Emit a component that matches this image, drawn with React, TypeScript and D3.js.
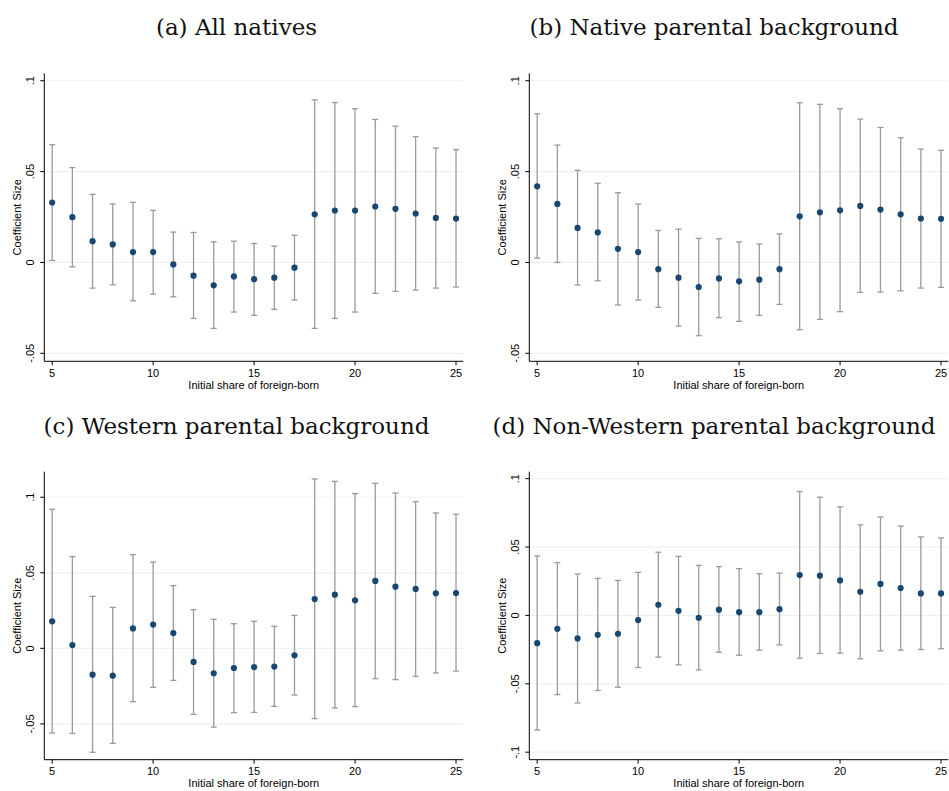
import React from "react";
import * as d3 from "d3";

// shares of foreign-born on the x axis
const shares = [5, 6, 7, 8, 9, 10, 11, 12, 13, 14, 15, 16, 17, 18, 19, 20, 21, 22, 23, 24, 25];

// (a) All natives
const coefA = [0.033, 0.0249, 0.0117, 0.0099, 0.0057, 0.0057, -0.0011, -0.0073, -0.0126, -0.0077, -0.0092, -0.0084, -0.0029, 0.0265, 0.0286, 0.0286, 0.0308, 0.0295, 0.0269, 0.0245, 0.0242];
const hiA = [0.0648, 0.0522, 0.0375, 0.0322, 0.0331, 0.0287, 0.0167, 0.0165, 0.0113, 0.0117, 0.0104, 0.009, 0.015, 0.0895, 0.088, 0.0846, 0.0787, 0.075, 0.0692, 0.063, 0.0621];
const loA = [0.0011, -0.0024, -0.0141, -0.0123, -0.0211, -0.0174, -0.0189, -0.0308, -0.0363, -0.0273, -0.0291, -0.0258, -0.0207, -0.0363, -0.0308, -0.0273, -0.017, -0.0159, -0.0152, -0.0141, -0.0135];

// (b) Native parental background
const coefB = [0.0419, 0.0322, 0.019, 0.0165, 0.0075, 0.0057, -0.0037, -0.0084, -0.0135, -0.0088, -0.0104, -0.0095, -0.0037, 0.0254, 0.0276, 0.0287, 0.0311, 0.0291, 0.0265, 0.0242, 0.024];
const hiB = [0.0818, 0.0646, 0.0507, 0.0436, 0.0384, 0.0322, 0.0176, 0.0183, 0.0132, 0.013, 0.0113, 0.0101, 0.0157, 0.0879, 0.087, 0.0846, 0.0789, 0.0743, 0.0686, 0.0624, 0.0617];
const loB = [0.0024, 0.0, -0.0124, -0.0101, -0.0234, -0.0207, -0.0247, -0.035, -0.0403, -0.0304, -0.0324, -0.0291, -0.0231, -0.037, -0.0313, -0.0271, -0.0165, -0.0163, -0.0156, -0.0141, -0.0137];

// (c) Western parental background
const coefC = [0.0179, 0.0022, -0.0174, -0.0181, 0.0132, 0.0157, 0.0101, -0.009, -0.0165, -0.013, -0.0124, -0.0121, -0.0046, 0.0326, 0.0355, 0.0318, 0.0446, 0.0408, 0.0393, 0.0364, 0.0366];
const hiC = [0.092, 0.0607, 0.0344, 0.0271, 0.062, 0.0571, 0.0415, 0.0256, 0.0192, 0.0163, 0.0179, 0.0146, 0.0218, 0.1121, 0.1105, 0.1024, 0.1092, 0.1028, 0.0971, 0.0896, 0.0887];
const loC = [-0.056, -0.0563, -0.0688, -0.0629, -0.0353, -0.0258, -0.0212, -0.0437, -0.0521, -0.0426, -0.0424, -0.0384, -0.0309, -0.0465, -0.0395, -0.0386, -0.0201, -0.0207, -0.0185, -0.0163, -0.015];

// (d) Non-Western parental background
const coefD = [-0.0203, -0.0098, -0.0168, -0.0142, -0.0134, -0.0034, 0.0078, 0.0034, -0.0017, 0.0042, 0.0024, 0.0024, 0.0046, 0.0295, 0.0291, 0.0256, 0.0173, 0.023, 0.02, 0.0161, 0.0161];
const hiD = [0.0435, 0.0386, 0.0303, 0.0271, 0.0256, 0.0315, 0.0462, 0.0432, 0.0366, 0.0357, 0.0342, 0.0305, 0.031, 0.0906, 0.0864, 0.0794, 0.0662, 0.072, 0.0654, 0.0574, 0.0567];
const loD = [-0.0838, -0.0579, -0.064, -0.0549, -0.0525, -0.0381, -0.0305, -0.0361, -0.0398, -0.0269, -0.0291, -0.0254, -0.0215, -0.0313, -0.0278, -0.0276, -0.0317, -0.0259, -0.0254, -0.0249, -0.0244];

const xTicks = [5, 10, 15, 20, 25];
const yTicksAB = [-0.05, 0, 0.05, 0.1];
const yTicksD = [-0.1, -0.05, 0, 0.05, 0.1];

const titles = [
  "(a) All natives",
  "(b) Native parental background",
  "(c) Western parental background",
  "(d) Non-Western parental background",
];

const fmt = (v: number) => {
  if (v === 0) return "0";
  return (v < 0 ? "-" : "") + String(Math.abs(v)).replace(/^0/, "");
};

const NAVY = "#1a476f";
const BAR = "#9a9a9a";
const GRID = "#eaf2f3";
const SANS = "'Liberation Sans', Arial, sans-serif";

type PanelProps = {
  left: number;
  top: number;
  title: string;
  titleX: number;
  coef: number[];
  hi: number[];
  lo: number[];
  yDomain: [number, number];
  yTicks: number[];
};

const W = 419;
const H = 288;

const Panel = ({ left, top, title, titleX, coef, hi, lo, yDomain, yTicks }: PanelProps) => {
  const x = d3.scaleLinear().domain([4.61, 25.36]).range([left, left + W]);
  const y = d3.scaleLinear().domain(yDomain).range([top + H, top]);
  const bottom = top + H;

  return (
    <g>
      <text x={titleX} y={top - 38} textAnchor="middle" fontFamily="'DejaVu Serif', serif" fontSize={23} fill="#111">
        {title}
      </text>

      {yTicks.map((t) => (
        <line key={"g" + t} x1={left} x2={left + W} y1={y(t)} y2={y(t)} stroke={GRID} strokeWidth={1.2} />
      ))}

      {shares.map((s, i) => (
        <g key={"e" + s} stroke={BAR} strokeWidth={1.3}>
          <line x1={x(s)} x2={x(s)} y1={y(hi[i])} y2={y(lo[i])} />
          <line x1={x(s) - 3} x2={x(s) + 3} y1={y(hi[i])} y2={y(hi[i])} />
          <line x1={x(s) - 3} x2={x(s) + 3} y1={y(lo[i])} y2={y(lo[i])} />
        </g>
      ))}

      {shares.map((s, i) => (
        <circle key={"p" + s} cx={x(s)} cy={y(coef[i])} r={3.1} fill={NAVY} />
      ))}

      {/* axes */}
      <line x1={left} x2={left} y1={top} y2={bottom} stroke="#000" strokeWidth={1} />
      <line x1={left} x2={left + W} y1={bottom} y2={bottom} stroke="#000" strokeWidth={1} />

      {yTicks.map((t) => (
        <g key={"yt" + t}>
          <line x1={left - 4} x2={left} y1={y(t)} y2={y(t)} stroke="#000" />
          <text
            transform={`translate(${left - 10},${y(t)}) rotate(-90)`}
            textAnchor="middle"
            fontFamily={SANS}
            fontSize={11}
            fill="#000"
          >
            {fmt(t)}
          </text>
        </g>
      ))}
      <text
        transform={`translate(${left - 23},${top + H / 2}) rotate(-90)`}
        textAnchor="middle"
        fontFamily={SANS}
        fontSize={11}
        fill="#000"
      >
        Coefficient Size
      </text>

      {xTicks.map((t) => (
        <g key={"xt" + t}>
          <line x1={x(t)} x2={x(t)} y1={bottom} y2={bottom + 4} stroke="#000" />
          <text x={x(t)} y={bottom + 15.5} textAnchor="middle" fontFamily={SANS} fontSize={11} fill="#000">
            {t}
          </text>
        </g>
      ))}
      <text x={left + W / 2} y={bottom + 27.5} textAnchor="middle" fontFamily={SANS} fontSize={11} fill="#000">
        Initial share of foreign-born
      </text>
    </g>
  );
};

export default function App() {
  return (
    <svg
      width={949}
      height={791}
      style={{ position: "absolute", left: 0, top: 0, background: "#fff" }}
    >
      <rect width={949} height={791} fill="#fff" />
      <Panel left={44.3} top={73.3} title={titles[0]} titleX={236.5} coef={coefA} hi={hiA} lo={loA} yDomain={[-0.0544, 0.1041]} yTicks={yTicksAB} />
      <Panel left={529.3} top={73.3} title={titles[1]} titleX={714} coef={coefB} hi={hiB} lo={loB} yDomain={[-0.0544, 0.1041]} yTicks={yTicksAB} />
      <Panel left={44.3} top={471.7} title={titles[2]} titleX={236.5} coef={coefC} hi={hiC} lo={loC} yDomain={[-0.0737, 0.1169]} yTicks={yTicksAB} />
      <Panel left={529.3} top={471.7} title={titles[3]} titleX={714} coef={coefD} hi={hiD} lo={loD} yDomain={[-0.1055, 0.1051]} yTicks={yTicksD} />
    </svg>
  );
}
